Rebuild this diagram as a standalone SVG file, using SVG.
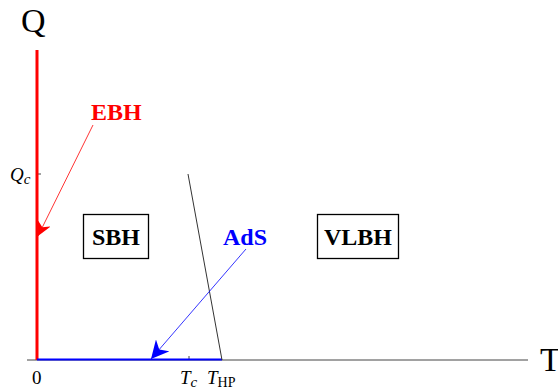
<svg xmlns="http://www.w3.org/2000/svg" width="558" height="391" viewBox="0 0 558 391">
<style>
.ax{stroke:#444;stroke-width:1;fill:none}
.lbl{font-family:"Liberation Serif",serif;font-size:19px;fill:#000}
.big{font-family:"Liberation Serif",serif;font-size:34px;fill:#000}
.bold{font-family:"Liberation Serif",serif;font-weight:bold;font-size:24px}
.box{fill:#fff;stroke:#000;stroke-width:1.3}
</style>
<defs>
<marker id="ar" viewBox="0 0 10 10" refX="10" refY="5" markerWidth="14" markerHeight="14" markerUnits="userSpaceOnUse" orient="auto"><path d="M0,0 L10,5 L0,10 L3,5 Z" fill="#f00"/></marker>
<marker id="ab" viewBox="0 0 10 10" refX="10" refY="5" markerWidth="18" markerHeight="18" markerUnits="userSpaceOnUse" orient="auto"><path d="M0,0 L10,5 L0,10 L3,5 Z" fill="#00f"/></marker>
</defs>
<g id="axes">
<line class="ax" x1="27" y1="360" x2="528" y2="360"/>
<line class="ax" x1="37" y1="174" x2="41" y2="174"/>
<line class="ax" x1="189" y1="356" x2="189" y2="360"/>
<line x1="37" y1="50" x2="37" y2="360" stroke="#f00" stroke-width="3"/>
<line x1="37" y1="359.5" x2="222" y2="359.5" stroke="#00f" stroke-width="2"/>
<line x1="188" y1="174" x2="222" y2="360" stroke="#333" stroke-width="1"/>
<text class="big" x="21" y="32">Q</text>
<text class="big" x="540" y="371">T</text>
<text class="lbl" x="10" y="181" font-style="italic">Q<tspan font-size="15" dy="3">c</tspan></text>
<text class="lbl" x="32" y="384">0</text>
<text class="lbl" x="180" y="384" font-style="italic">T<tspan font-size="15" dy="3">c</tspan></text>
<text class="lbl" x="207" y="384" font-style="italic">T<tspan font-size="14" dy="3" font-style="normal">HP</tspan></text>
</g>
<g id="connectors">
<line x1="93" y1="125" x2="38" y2="236" stroke="#f00" stroke-width="0.8" marker-end="url(#ar)"/>
<line x1="246" y1="249" x2="151" y2="359" stroke="#00f" stroke-width="0.8" marker-end="url(#ab)"/>
</g>
<g id="EBH"><text class="bold" x="91" y="120" fill="#f00">EBH</text></g>
<g id="AdS"><text class="bold" x="223" y="245" fill="#00f">AdS</text></g>
<g id="SBH"><rect class="box" x="83.5" y="214.5" width="65" height="44"/><text class="bold" x="116" y="245" text-anchor="middle" fill="#000">SBH</text></g>
<g id="VLBH"><rect class="box" x="317.5" y="214.5" width="81" height="44"/><text class="bold" x="358" y="245" text-anchor="middle" fill="#000">VLBH</text></g>
</svg>
